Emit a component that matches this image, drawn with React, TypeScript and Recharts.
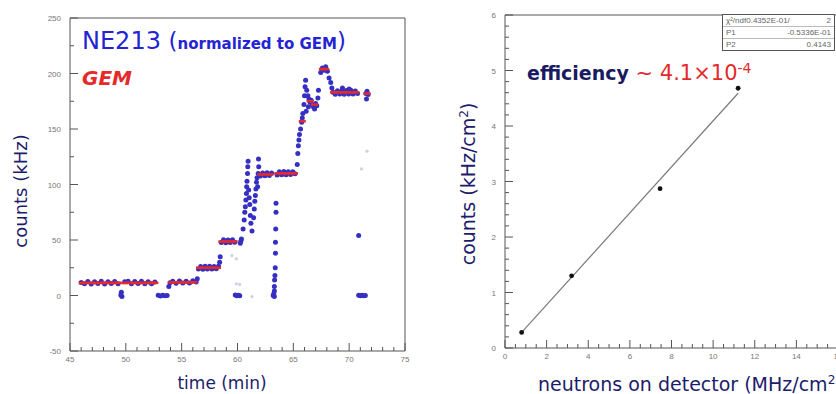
import React from "react";
import { ScatterChart, Scatter, XAxis, YAxis, ReferenceArea } from "recharts";

// ---- left panel: counts vs time ----
const timeMajor = [45, 50, 55, 60, 65, 70, 75];
const timeTicks = [45, 46, 47, 48, 49, 50, 51, 52, 53, 54, 55, 56, 57, 58, 59, 60, 61, 62, 63, 64, 65, 66, 67, 68, 69, 70, 71, 72, 73, 74, 75];
const countMajor = [-50, 0, 50, 100, 150, 200, 250];
const countTicks = [-50, -25, 0, 25, 50, 75, 100, 125, 150, 175, 200, 225, 250];

// NE213 (normalized to GEM) samples [min, kHz]
const ne213: [number, number][] = [
  [46.0, 11.8], [46.3, 10.6], [46.6, 12.6], [46.9, 10.4], [47.2, 12.4], [47.5, 10.8], [47.8, 12.8], [48.1, 10.3],
  [48.4, 12.3], [48.7, 10.9], [49.0, 12.6], [49.3, 10.5], [49.9, 12.4], [50.2, 12.9], [50.5, 10.6], [50.8, 12.6],
  [51.1, 10.8], [51.4, 12.9], [51.7, 10.6], [52.0, 12.5], [52.3, 10.5], [52.6, 12.2],
  [49.55, 0.5], [49.65, -1], [49.6, 3],
  [52.9, 0.3], [53.1, -0.4], [53.3, 0.2], [53.5, -0.3], [53.7, 0.1],
  [53.85, 8], [53.95, 11.5], [54.2, 12.9], [54.5, 11.0], [54.8, 13.1], [55.1, 11.2], [55.4, 12.9], [55.7, 11.3],
  [56.0, 13.2], [56.3, 12.2], [56.4, 15],
  [56.5, 23.8], [56.7, 26.2], [56.9, 23.6], [57.1, 26.4], [57.3, 23.9], [57.5, 26.3], [57.7, 23.8], [57.9, 26.1],
  [58.1, 24.0], [58.3, 26.4], [58.4, 30], [58.45, 35],
  [58.55, 47.8], [58.75, 50.2], [58.95, 47.6], [59.15, 50.1], [59.35, 47.8], [59.55, 50.3], [59.75, 47.9],
  [60.3, 49], [60.35, 51], [60.25, 47],
  [59.8, 0.4], [59.95, -0.3], [60.1, 0.2], [60.2, -0.2],
  [60.5, 60], [60.6, 68], [60.65, 75], [60.7, 80], [60.75, 86], [60.8, 92], [60.82, 98], [60.85, 103],
  [60.9, 110], [60.92, 116], [60.95, 121], [61.0, 95], [61.05, 88], [61.1, 82], [61.15, 72], [61.2, 65],
  [61.3, 58], [61.45, 70], [61.5, 78], [61.55, 85], [61.6, 90], [61.65, 96], [61.7, 102], [61.75, 106],
  [61.8, 98], [61.85, 110], [61.9, 116], [61.88, 123],
  [62.05, 107.6], [62.25, 110.4], [62.45, 107.8], [62.65, 110.6], [62.85, 108.0], [63.05, 110.3],
  [63.2, 0], [63.25, 1.5], [63.3, 4], [63.3, 8], [63.32, 14], [63.35, 18], [63.38, 25], [63.4, 38],
  [63.4, 48], [63.42, 60], [63.45, 75], [63.45, 83], [63.3, -1],
  [63.55, 108.6], [63.75, 111.4], [63.95, 108.8], [64.15, 111.6], [64.35, 108.7], [64.55, 111.5], [64.75, 108.9],
  [64.95, 111.4], [65.15, 109.6],
  [65.35, 118], [65.4, 128], [65.45, 135], [65.5, 140], [65.55, 145], [65.65, 150], [65.75, 156], [65.8, 160],
  [65.85, 164], [65.95, 172], [66.0, 180], [66.05, 188], [66.1, 194], [66.2, 185], [66.3, 180], [66.4, 177],
  [66.5, 174], [66.6, 176], [66.7, 172], [66.8, 170], [66.9, 168], [67.0, 173], [67.1, 171], [67.2, 178],
  [67.25, 185], [66.15, 166], [66.35, 170],
  [67.45, 201], [67.6, 205], [67.75, 203], [67.9, 206], [68.05, 202], [68.2, 196], [68.35, 192], [68.45, 187],
  [68.55, 183], [68.75, 181.2], [68.95, 184.4], [69.15, 181.5], [69.35, 184.8], [69.55, 181.4], [69.75, 184.6],
  [69.95, 181.6], [70.15, 184.8], [70.35, 181.5], [70.55, 184.3], [70.75, 182.0], [69.4, 187], [70.0, 186],
  [70.85, 0.3], [71.0, -0.3], [71.15, 0.2], [71.3, -0.2], [71.45, 0.1],
  [70.85, 54],
  [71.5, 182], [71.6, 184], [71.7, 181], [71.55, 177],
];

// GEM samples [min, kHz]
const gem: [number, number][] = [
  [46.1, 11.3], [46.5, 11.3], [46.9, 11.4], [47.3, 11.3], [47.7, 11.4], [48.1, 11.3], [48.5, 11.4], [48.9, 11.3],
  [49.3, 11.4], [49.9, 11.3], [50.3, 11.4], [50.7, 11.3], [51.1, 11.4], [51.5, 11.3], [51.9, 11.4], [52.3, 11.3],
  [52.6, 11.4],
  [54.1, 11.8], [54.5, 11.9], [54.9, 11.8], [55.3, 11.9], [55.7, 11.8], [56.1, 11.9],
  [56.6, 25], [57.0, 25.1], [57.4, 25], [57.8, 25.1], [58.2, 25],
  [58.6, 48.6], [59.0, 48.7], [59.4, 48.6], [59.7, 48.7],
  [62.1, 109], [62.5, 109.1], [62.9, 109],
  [63.6, 110], [64.0, 110.1], [64.4, 110], [64.8, 110.1], [65.1, 110],
  [65.8, 157], [66.5, 175], [66.9, 172],
  [67.6, 204], [67.9, 204],
  [68.6, 183], [69.0, 183.1], [69.4, 183], [69.8, 183.1], [70.2, 183], [70.6, 183.1],
  [71.6, 182],
];

// faint stray samples
const stray: [number, number][] = [
  [59.9, 10.5], [60.2, 10], [59.5, 36], [59.9, 33], [71.6, 130], [71.1, 114], [61.3, -1],
];

// ---- right panel: counts vs neutron flux ----
const fluxMajor = [0, 2, 4, 6, 8, 10, 12, 14, 16];
const fluxTicks = [0, 0.5, 1, 1.5, 2, 2.5, 3, 3.5, 4, 4.5, 5, 5.5, 6, 6.5, 7, 7.5, 8, 8.5, 9, 9.5, 10, 10.5, 11, 11.5, 12, 12.5, 13, 13.5, 14, 14.5, 15, 15.5, 16];
const rateMajor = [0, 1, 2, 3, 4, 5, 6];
const rateTicks = [0, 0.2, 0.4, 0.6, 0.8, 1, 1.2, 1.4, 1.6, 1.8, 2, 2.2, 2.4, 2.6, 2.8, 3, 3.2, 3.4, 3.6, 3.8, 4, 4.2, 4.4, 4.6, 4.8, 5, 5.2, 5.4, 5.6, 5.8, 6];

const measured: [number, number][] = [[0.8, 0.28], [3.2, 1.3], [7.45, 2.87], [11.2, 4.68]];
const fitLine: [number, number][] = [[0.8, 0.28], [11.2, 4.59]];

const toPts = (arr: [number, number][]) => arr.map(([x, y]) => ({ x, y }));

const tickFont = "'Liberation Sans', Arial, sans-serif";
const labelFont = "'DejaVu Sans', Verdana, sans-serif";
const navy = "#1c1c6b";

function BottomTick(props: any) {
  const { x, y, payload, majors } = props;
  const major = majors.includes(payload.value);
  return (
    <g>
      <line x1={x} y1={y} x2={x} y2={y - (major ? 8 : 4)} stroke="#555" />
      {major && (
        <text x={x} y={y + 11} textAnchor="middle" fontSize={8} fill="#777" fontFamily={tickFont}>
          {payload.value}
        </text>
      )}
    </g>
  );
}

function LeftTick(props: any) {
  const { x, y, payload, majors } = props;
  const major = majors.includes(payload.value);
  return (
    <g>
      <line x1={x} y1={y} x2={x + (major ? 8 : 4)} y2={y} stroke="#555" />
      {major && (
        <text x={x - 9} y={y + 3} textAnchor="end" fontSize={8} fill="#777" fontFamily={tickFont}>
          {payload.value}
        </text>
      )}
    </g>
  );
}

const dot = (fill: string, r: number) => (p: any) => <circle cx={p.cx} cy={p.cy} r={r} fill={fill} />;
const dash = (p: any) => <rect x={p.cx - 3.5} y={p.cy - 1.3} width={7} height={2.6} fill="#e42a2a" />;

export default function App() {
  return (
    <div style={{ position: "absolute", left: 0, top: 0, width: 836, height: 394, background: "#fff", overflow: "hidden" }}>
      <div style={{ position: "absolute", left: 0, top: 0 }}>
        <ScatterChart width={420} height={394} margin={{ top: 18, right: 15, bottom: 23, left: 40 }}>
          <XAxis
            type="number"
            dataKey="x"
            domain={[45, 75]}
            ticks={timeTicks}
            interval={0}
            height={20}
            axisLine={false}
            tickLine={false}
            tickSize={0}
            tickMargin={0}
            tick={(p: any) => <BottomTick {...p} majors={timeMajor} />}
          />
          <YAxis
            type="number"
            dataKey="y"
            domain={[-50, 250]}
            ticks={countTicks}
            interval={0}
            width={30}
            axisLine={false}
            tickLine={false}
            tickSize={0}
            tickMargin={0}
            tick={(p: any) => <LeftTick {...p} majors={countMajor} />}
          />
          <ReferenceArea x1={45} x2={75} y1={-50} y2={250} fill="none" stroke="#555" strokeWidth={1} />
          <Scatter data={toPts(stray)} shape={dot("#cfcfe6", 1.6)} isAnimationActive={false} />
          <Scatter data={toPts(ne213)} shape={dot("#3530c2", 2.5)} isAnimationActive={false} />
          <Scatter data={toPts(gem)} shape={dash} isAnimationActive={false} />
        </ScatterChart>
      </div>

      <div style={{ position: "absolute", left: 420, top: 0 }}>
        <ScatterChart width={420} height={394} margin={{ top: 15, right: 2, bottom: 26, left: 55 }}>
          <XAxis
            type="number"
            dataKey="x"
            domain={[0, 16]}
            ticks={fluxTicks}
            interval={0}
            height={20}
            axisLine={false}
            tickLine={false}
            tickSize={0}
            tickMargin={0}
            tick={(p: any) => <BottomTick {...p} majors={fluxMajor} />}
          />
          <YAxis
            type="number"
            dataKey="y"
            domain={[0, 6]}
            ticks={rateTicks}
            interval={0}
            width={30}
            axisLine={false}
            tickLine={false}
            tickSize={0}
            tickMargin={0}
            tick={(p: any) => <LeftTick {...p} majors={rateMajor} />}
          />
          <ReferenceArea x1={0} x2={16} y1={0} y2={6} fill="none" stroke="#555" strokeWidth={1} />
          <Scatter
            data={toPts(fitLine)}
            line={{ stroke: "#7a7a7a", strokeWidth: 1.2 }}
            shape={() => <g />}
            isAnimationActive={false}
          />
          <Scatter data={toPts(measured)} shape={dot("#111", 2.4)} isAnimationActive={false} />
        </ScatterChart>
      </div>

      {/* left panel texts */}
      <div style={{ position: "absolute", left: 82, top: 29, fontFamily: labelFont, color: "#2424d4", whiteSpace: "nowrap", lineHeight: 1 }}>
        <span style={{ fontSize: 24 }}>NE213 </span>
        <span style={{ fontSize: 23 }}>(</span>
        <span style={{ fontSize: 15, fontWeight: "bold" }}>normalized to GEM</span>
        <span style={{ fontSize: 23 }}>)</span>
      </div>
      <div style={{ position: "absolute", left: 82, top: 68, fontFamily: labelFont, color: "#e42a2a", fontSize: 20, fontWeight: "bold", fontStyle: "italic", lineHeight: 1 }}>
        GEM
      </div>
      <div
        style={{
          position: "absolute", left: 21, top: 191, transform: "translate(-50%, -50%) rotate(-90deg)",
          fontFamily: labelFont, fontSize: 18, color: navy, whiteSpace: "nowrap", lineHeight: 1,
        }}
      >
        counts (kHz)
      </div>
      <div style={{ position: "absolute", left: 222, top: 375, transform: "translateX(-50%)", fontFamily: labelFont, fontSize: 17, color: navy, whiteSpace: "nowrap", lineHeight: 1 }}>
        time (min)
      </div>

      {/* right panel texts */}
      <div style={{ position: "absolute", left: 527, top: 61, fontFamily: labelFont, whiteSpace: "nowrap", lineHeight: 1 }}>
        <span style={{ fontSize: 19, fontWeight: "bold", color: "#1a1a60" }}>efficiency </span>
        <span style={{ fontSize: 21, color: "#e42a2a" }}>
          ~ 4.1×10<sup style={{ fontSize: 14, verticalAlign: "7px" }}>-4</sup>
        </span>
      </div>
      <div
        style={{
          position: "absolute", left: 468, top: 184, transform: "translate(-50%, -50%) rotate(-90deg)",
          fontFamily: labelFont, fontSize: 19, color: navy, whiteSpace: "nowrap", lineHeight: 1,
        }}
      >
        counts (kHz/cm<sup style={{ fontSize: 12 }}>2</sup>)
      </div>
      <div style={{ position: "absolute", left: 538, top: 374, fontFamily: labelFont, fontSize: 19, color: navy, whiteSpace: "nowrap", lineHeight: 1 }}>
        neutrons on detector (MHz/cm<sup style={{ fontSize: 12 }}>2</sup>)
      </div>

      <div
        style={{
          position: "absolute", left: 722, top: 14, width: 113, boxSizing: "border-box", border: "1px solid #555", background: "#fff",
          fontFamily: tickFont, fontSize: 8, color: "#666", lineHeight: "11px",
        }}
      >
        <div style={{ display: "flex", justifyContent: "space-between", padding: "0 3px", borderBottom: "1px solid #bbb" }}>
          <span>χ²/ndf0.4352E-01/</span>
          <span>2</span>
        </div>
        <div style={{ display: "flex", justifyContent: "space-between", padding: "0 3px", borderBottom: "1px solid #bbb" }}>
          <span>P1</span>
          <span>-0.5336E-01</span>
        </div>
        <div style={{ display: "flex", justifyContent: "space-between", padding: "0 3px" }}>
          <span>P2</span>
          <span>0.4143</span>
        </div>
      </div>
    </div>
  );
}
